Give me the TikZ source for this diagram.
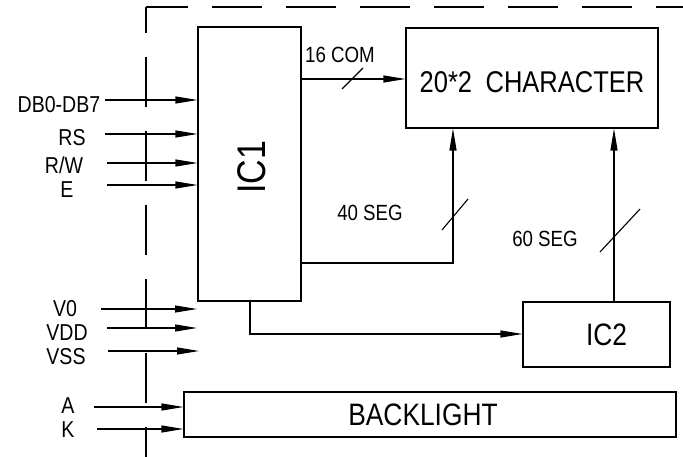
\documentclass[tikz,border=0pt]{standalone}
\usepackage{fontspec}
\usetikzlibrary{arrows.meta}
\newfontfamily\cadfont[FakeStretch=0.85]{Liberation Sans}
\tikzstyle{arrow} = [line width=1.1pt,-{Triangle[length=22pt,width=7pt]}]
\tikzstyle{block} = [draw, line width=1.1pt, rectangle, inner sep=0pt]
\tikzstyle{pinlbl} = [font=\cadfont\fontsize{23}{23}\selectfont, inner sep=0pt]
\tikzstyle{buslbl} = [font=\cadfont\fontsize{22}{22}\selectfont, inner sep=0pt]
\tikzstyle{frame} = [line width=1.1pt, dash pattern=on 50pt off 24pt]

\begin{document}
\begin{tikzpicture}[x=1pt,y=-1pt]
	\useasboundingbox (0,0) rectangle (683,457);
	% module outline
	\draw[frame, dash phase=24pt] (146,7) -- (146,457);
	\draw[frame, dash phase=8pt] (146,7) -- (683,7);

	% blocks
	\node[block, minimum width=103pt, minimum height=274pt,
		label={[rotate=90, xshift=-3pt, yshift=-2pt, font=\cadfont\fontsize{40}{40}\selectfont]center:IC1}] (ic1) at (249.5,164) {};
	\node[block, minimum width=252pt, minimum height=100pt,
		label={[yshift=-4pt, font=\cadfont\fontsize{30}{30}\selectfont]center:20*2\hspace{0.45em}CHARACTER}] (lcd) at (532,78) {};
	\node[block, minimum width=147pt, minimum height=65pt,
		label={[xshift=10pt, font=\cadfont\fontsize{31}{31}\selectfont]center:IC2}] (ic2) at (596.5,334.5) {};
	\node[block, minimum width=492pt, minimum height=45pt,
		label={[xshift=-7pt, font=\cadfont\fontsize{31}{31}\selectfont]center:BACKLIGHT}] (bl) at (430,414.5) {};

	% interface pins
	\node[pinlbl] (db) at (59,105) {DB0-DB7};
	\coordinate (dbin) at (105,100);
	\draw[arrow] (dbin) -- (dbin -| ic1.west);
	\node[pinlbl] (rs) at (72,138) {RS};
	\coordinate (rsin) at (105,134);
	\draw[arrow] (rsin) -- (rsin -| ic1.west);
	\node[pinlbl] (rw) at (64,165) {R/W};
	\coordinate (rwin) at (107,163);
	\draw[arrow] (rwin) -- (rwin -| ic1.west);
	\node[pinlbl] (en) at (67,190) {E};
	\coordinate (enin) at (107,185);
	\draw[arrow] (enin) -- (enin -| ic1.west);

	% power pins
	\node[pinlbl] (vo) at (65,309) {V0};
	\coordinate (voin) at (101,309);
	\coordinate (voend) at (197,309);
	\draw[arrow] (voin) -- (voend);
	\node[pinlbl] (vdd) at (67,333) {VDD};
	\coordinate (vddin) at (107,328);
	\coordinate (vddend) at (197,328);
	\draw[arrow] (vddin) -- (vddend);
	\node[pinlbl] (vss) at (66,357) {VSS};
	\coordinate (vssin) at (108,351);
	\coordinate (vssend) at (199,351);
	\draw[arrow] (vssin) -- (vssend);

	% backlight pins
	\node[pinlbl] (an) at (68,406) {A};
	\coordinate (anin) at (94,407);
	\draw[arrow] (anin) -- (anin -| bl.west);
	\node[pinlbl] (ka) at (68,430) {K};
	\coordinate (kain) at (97,429);
	\draw[arrow] (kain) -- (kain -| bl.west);

	% buses
	\coordinate (com) at (352,79);
	\draw[arrow] (com -| ic1.east) -- (com -| lcd.west);
	\draw[line width=1.1pt] (342,89) -- (363,68);
	\node[buslbl] (comlbl) at (340,55) {16 COM};

	\coordinate (segA) at (453,263);
	\draw[arrow] (segA -| ic1.east) -- (segA) -- (segA |- lcd.south);
	\draw[line width=1.1pt] (442,230) -- (468,199);
	\node[buslbl] (segAlbl) at (370,213) {40 SEG};

	\coordinate (segB) at (614,230);
	\draw[arrow] (segB |- ic2.north) -- (segB |- lcd.south);
	\draw[line width=1.1pt] (600,252) -- (640,209);
	\node[buslbl] (segBlbl) at (545,239) {60 SEG};

	\coordinate (ctl) at (250,334);
	\draw[arrow] (ctl |- ic1.south) -- (ctl) -- (ctl -| ic2.west);
\end{tikzpicture}
\end{document}
